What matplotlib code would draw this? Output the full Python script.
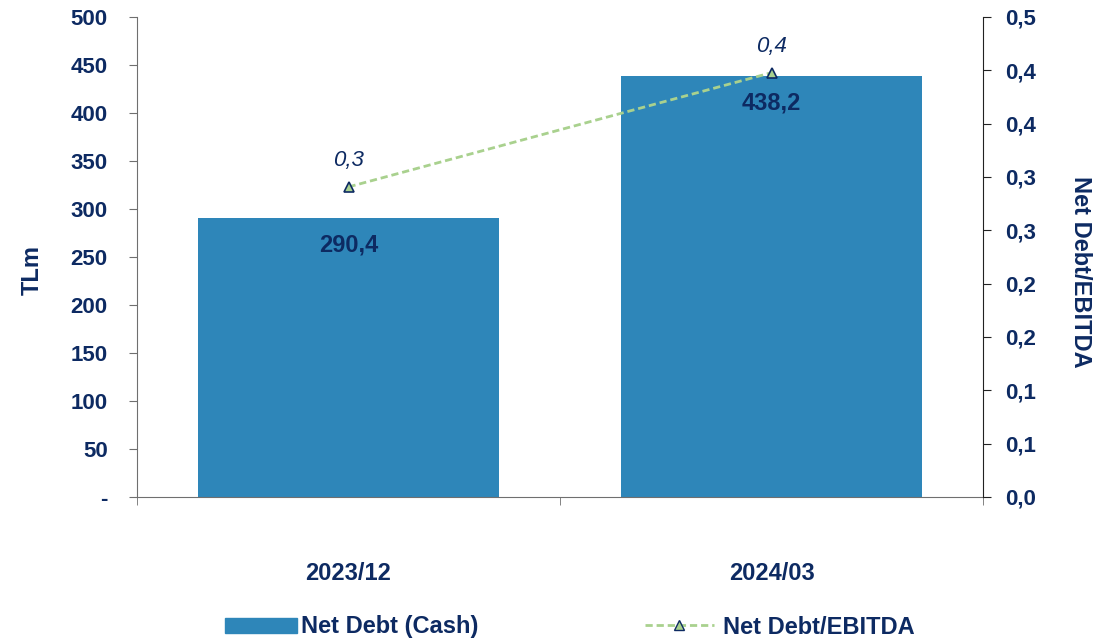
import matplotlib.pyplot as plt
from matplotlib.lines import Line2D
from matplotlib.patches import Patch

# Net debt figures (TL million) and leverage ratio per period
periods = ["2023/12", "2024/03"]
net_debt = [290.4, 438.2]
net_debt_ebitda = [0.323, 0.442]

left_ticks = [0, 50, 100, 150, 200, 250, 300, 350, 400, 450, 500]
left_tick_labels = ["-", "50", "100", "150", "200", "250", "300", "350", "400", "450", "500"]
# right axis is split into nine equal steps between 0 and 0.5
right_ticks = [i * 0.5 / 9 for i in range(10)]
right_tick_labels = ["0,0", "0,1", "0,1", "0,2", "0,2", "0,3", "0,3", "0,4", "0,4", "0,5"]

NAVY = "#0d2a62"
BAR = "#2e86b9"
GREEN = "#a9d18e"
SPINE = "#6f6f6f"
DASH = (0, (2.6, 1.4))

plt.rcParams["font.family"] = ["Liberation Sans", "DejaVu Sans"]

fig = plt.figure(figsize=(11.17, 6.4), dpi=100)
ax = fig.add_axes([137 / 1117, 1 - 497 / 640, (983 - 137) / 1117, 480 / 640])
ax2 = ax.twinx()

x = list(range(len(periods)))
ax.bar(x, net_debt, width=0.713, color=BAR, zorder=2)
for xi, v in zip(x, net_debt):
    ax.annotate(f"{v:.1f}".replace(".", ","), (xi, v), xytext=(0, -19),
                textcoords="offset points", ha="center", va="center",
                fontsize=17, fontweight="bold", color=NAVY)

ax.set_xlim(-0.5, 1.5)
ax.set_ylim(0, 500)
ax.set_yticks(left_ticks)
ax.set_yticklabels(left_tick_labels)
ax.set_xticks(x)
ax.set_xticklabels(periods)
ax.set_xticks([-0.5, 0.5, 1.5], minor=True)
ax.tick_params(axis="x", which="major", length=0, pad=47, labelsize=17, labelcolor=NAVY)
ax.tick_params(axis="x", which="minor", length=6, direction="out", color=SPINE)
ax.tick_params(axis="y", length=6, direction="out", pad=15, labelsize=16,
               labelcolor=NAVY, color=SPINE)
for lbl in ax.get_xticklabels() + ax.get_yticklabels():
    lbl.set_fontweight("bold")
ax.set_ylabel("TLm", fontsize=17, fontweight="bold", color=NAVY, va="center")
ax.yaxis.set_label_coords((32 - 137) / 846, 0.473)

ax2.plot(x, net_debt_ebitda, linestyle=DASH, color=GREEN, linewidth=2,
         marker="^", markersize=6.5, markerfacecolor=GREEN, markeredgecolor=NAVY,
         markeredgewidth=1.2, zorder=3)
for xi, v in zip(x, net_debt_ebitda):
    ax2.annotate(f"{v:.1f}".replace(".", ","), (xi, v), xytext=(0, 19),
                 textcoords="offset points", ha="center", va="center",
                 fontsize=16, fontstyle="italic", color=NAVY)
ax2.set_ylim(0, 0.5)
ax2.set_yticks(right_ticks)
ax2.set_yticklabels(right_tick_labels)
ax2.tick_params(axis="y", length=6, direction="out", pad=10, labelsize=16,
                labelcolor=NAVY, color="#222222")
for lbl in ax2.get_yticklabels():
    lbl.set_fontweight("bold")
ax2.set_ylabel("Net Debt/EBITDA", fontsize=17, fontweight="bold", color=NAVY,
               rotation=270, va="center")
ax2.yaxis.set_label_coords((1080 - 137) / 846, 0.469)

for a in (ax, ax2):
    a.spines["top"].set_visible(False)
ax.spines["left"].set_color(SPINE)
ax.spines["bottom"].set_color(SPINE)
ax.spines["right"].set_visible(False)
ax2.spines["left"].set_visible(False)
ax2.spines["bottom"].set_visible(False)
ax2.spines["right"].set_color("#222222")

leg_font = {"size": 17, "weight": "bold"}
fig.legend(handles=[Patch(facecolor=BAR, edgecolor=BAR)], labels=["Net Debt (Cash)"],
           loc="center left", bbox_to_anchor=(204 / 1117, 1 - 627 / 640), frameon=False,
           prop=leg_font, labelcolor=NAVY, handlelength=3.05, handleheight=0.6,
           handletextpad=0.15)
fig.legend(handles=[Line2D([], [], linestyle=DASH, color=GREEN, linewidth=2,
                           marker="^", markersize=6.5, markerfacecolor=GREEN,
                           markeredgecolor=NAVY)],
           labels=["Net Debt/EBITDA"], loc="center left",
           bbox_to_anchor=(624 / 1117, 1 - 627 / 640), frameon=False,
           prop=leg_font, labelcolor=NAVY, handlelength=2.9, handletextpad=0.38)

fig.savefig("out.png", dpi=100)
